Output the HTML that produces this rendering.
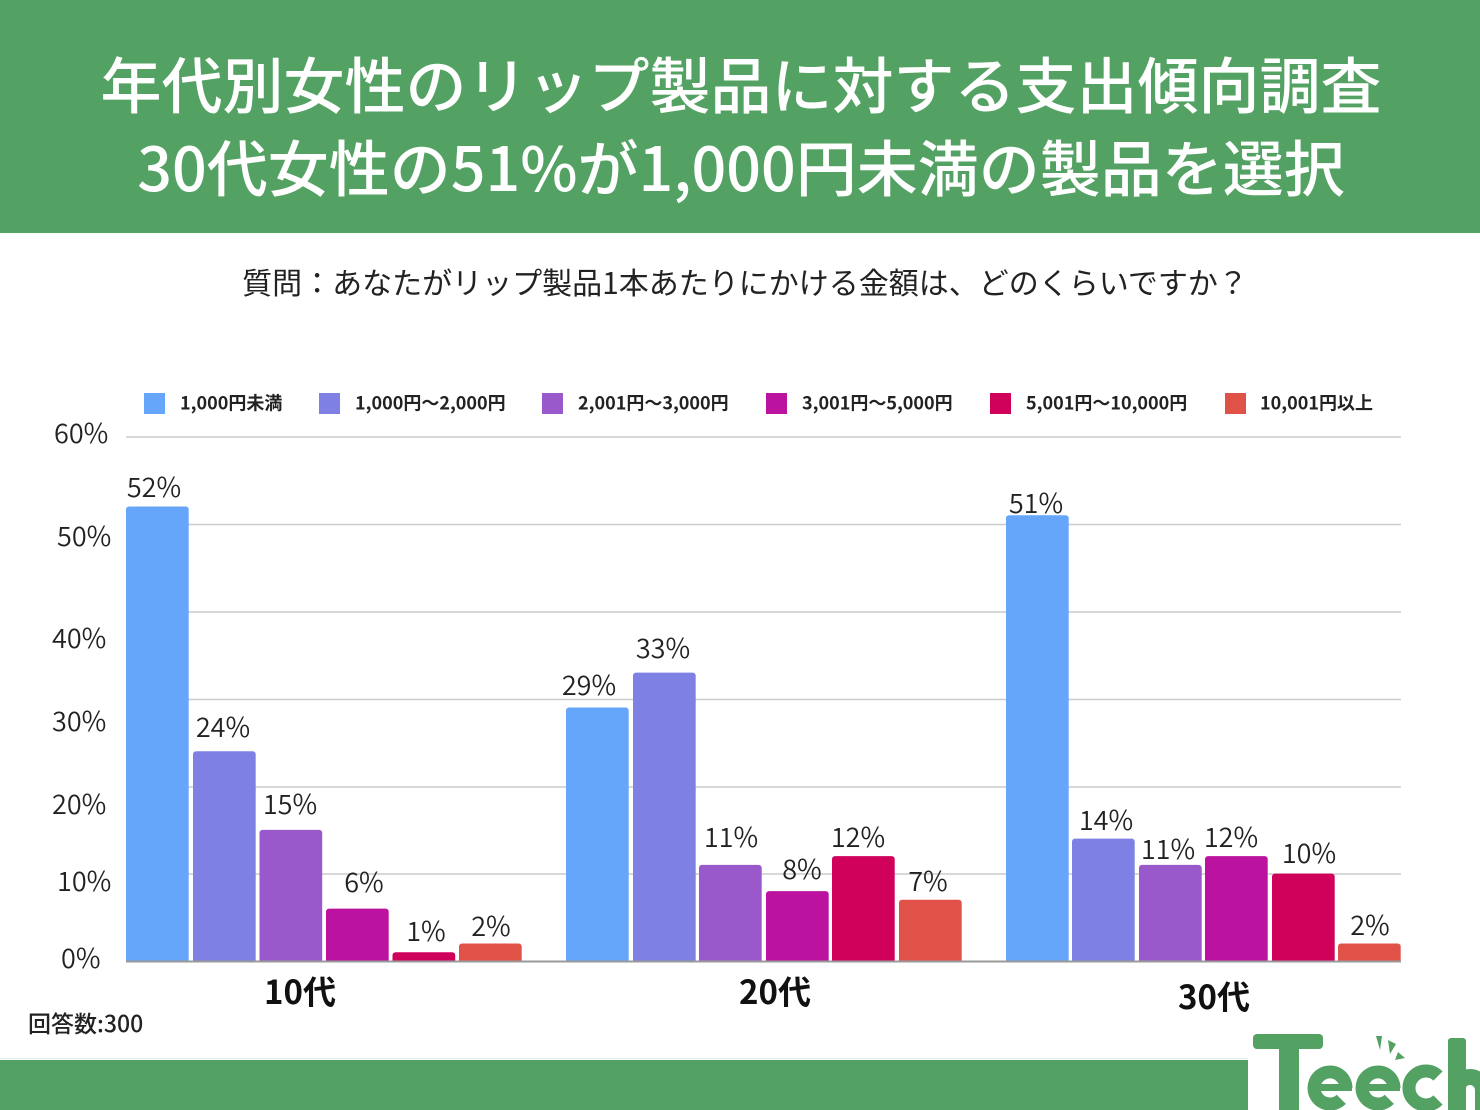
<!DOCTYPE html>
<html><head><meta charset="utf-8"><style>
html,body{margin:0;padding:0;background:#fff;}
svg{display:block;}
text{font-family:"Noto Sans CJK JP","Liberation Sans",sans-serif;}
</style></head><body>
<svg width="1480" height="1110" viewBox="0 0 1480 1110" xmlns="http://www.w3.org/2000/svg">
<rect x="0" y="0" width="1480" height="1110" fill="#fff"/>
<!-- header -->
<rect x="0" y="0" width="1480" height="233" fill="#53a263"/>
<text x="741" y="108" font-size="61" font-weight="500" fill="#fff" text-anchor="middle">年代別女性のリップ製品に対する支出傾向調査</text>
<text x="741" y="191" font-size="61" font-weight="500" fill="#fff" text-anchor="middle">30代女性の51%が1,000円未満の製品を選択</text>
<text x="745" y="294" font-size="30" font-weight="400" fill="#222" text-anchor="middle">質問：あなたがリップ製品1本あたりにかける金額は、どのくらいですか？</text>

<!-- legend -->
<g font-size="18" font-weight="700" fill="#222">
<rect x="144" y="393" width="21" height="21" fill="#66a6fa"/><text x="180" y="409.5">1,000円未満</text>
<rect x="319" y="393" width="21" height="21" fill="#7f80e4"/><text x="355" y="409.5">1,000円〜2,000円</text>
<rect x="542" y="393" width="21" height="21" fill="#9a59ca"/><text x="578" y="409.5">2,001円〜3,000円</text>
<rect x="766" y="393" width="21" height="21" fill="#bb13a0"/><text x="802" y="409.5">3,001円〜5,000円</text>
<rect x="990" y="393" width="21" height="21" fill="#d0015b"/><text x="1026" y="409.5">5,001円〜10,000円</text>
<rect x="1225" y="393" width="21" height="21" fill="#e05148"/><text x="1260" y="409.5">10,001円以上</text>
</g>

<!-- gridlines -->
<g stroke="#cccccc" stroke-width="1.5">
<line x1="126" y1="437" x2="1401" y2="437"/>
<line x1="126" y1="524.5" x2="1401" y2="524.5"/>
<line x1="126" y1="612" x2="1401" y2="612"/>
<line x1="126" y1="699.5" x2="1401" y2="699.5"/>
<line x1="126" y1="787" x2="1401" y2="787"/>
<line x1="126" y1="874" x2="1401" y2="874"/>
</g>

<!-- y labels -->
<g font-size="27" font-weight="350" fill="#222">
<text x="54" y="443">60%</text>
<text x="57" y="546">50%</text>
<text x="52" y="648">40%</text>
<text x="52" y="731">30%</text>
<text x="52" y="814">20%</text>
<text x="57" y="891">10%</text>
<text x="61" y="968">0%</text>
</g>

<!-- bars -->
<g>
<rect x="126" y="506.5" width="62.7" height="460" rx="3" fill="#66a6fa"/>
<rect x="193" y="751.2" width="62.7" height="215" rx="3" fill="#7f80e4"/>
<rect x="259.5" y="829.9" width="62.7" height="137" rx="3" fill="#9a59ca"/>
<rect x="326" y="908.6" width="62.7" height="58" rx="3" fill="#bb13a0"/>
<rect x="392.5" y="952.3" width="62.7" height="14" rx="3" fill="#d0015b"/>
<rect x="459" y="943.5" width="62.7" height="23" rx="3" fill="#e05148"/>

<rect x="566" y="707.5" width="62.7" height="259" rx="3" fill="#66a6fa"/>
<rect x="633" y="672.6" width="62.7" height="294" rx="3" fill="#7f80e4"/>
<rect x="699" y="864.9" width="62.7" height="102" rx="3" fill="#9a59ca"/>
<rect x="766" y="891.1" width="62.7" height="76" rx="3" fill="#bb13a0"/>
<rect x="832" y="856.1" width="62.7" height="111" rx="3" fill="#d0015b"/>
<rect x="899" y="899.8" width="62.7" height="67" rx="3" fill="#e05148"/>

<rect x="1006" y="515.3" width="62.7" height="451" rx="3" fill="#66a6fa"/>
<rect x="1072" y="838.6" width="62.7" height="128" rx="3" fill="#7f80e4"/>
<rect x="1139" y="864.9" width="62.7" height="102" rx="3" fill="#9a59ca"/>
<rect x="1205" y="856.1" width="62.7" height="111" rx="3" fill="#bb13a0"/>
<rect x="1272" y="873.6" width="62.7" height="93" rx="3" fill="#d0015b"/>
<rect x="1338" y="943.5" width="62.7" height="23" rx="3" fill="#e05148"/>
</g>
<rect x="110" y="962" width="1310" height="10" fill="#fff"/>
<line x1="126" y1="961.5" x2="1401" y2="961.5" stroke="#9a9a9a" stroke-width="2"/>

<!-- value labels -->
<g font-size="27" font-weight="350" fill="#222" text-anchor="middle">
<text x="154" y="497">52%</text>
<text x="223" y="737">24%</text>
<text x="290" y="814">15%</text>
<text x="364" y="892">6%</text>
<text x="426" y="941">1%</text>
<text x="491" y="936">2%</text>

<text x="589" y="695">29%</text>
<text x="663" y="658">33%</text>
<text x="731" y="847">11%</text>
<text x="802" y="879">8%</text>
<text x="858" y="847">12%</text>
<text x="928" y="891">7%</text>

<text x="1036" y="513">51%</text>
<text x="1106" y="830">14%</text>
<text x="1168" y="859">11%</text>
<text x="1231" y="847">12%</text>
<text x="1309" y="863">10%</text>
<text x="1370" y="935">2%</text>
</g>

<!-- category labels -->
<g font-size="33" font-weight="700" fill="#111" text-anchor="middle">
<text x="300" y="1004">10代</text>
<text x="775" y="1004">20代</text>
<text x="1214" y="1009">30代</text>
</g>

<text x="28" y="1032" font-size="23" font-weight="500" fill="#222">回答数:300</text>

<!-- bottom bar -->
<line x1="0" y1="1058.5" x2="1248" y2="1058.5" stroke="#e3ece5" stroke-width="1"/>
<rect x="0" y="1060" width="1248" height="50" fill="#53a263"/>

<!-- Teech logo -->
<g fill="#53a263">
<rect x="1253" y="1034" width="70" height="15" rx="4"/>
<rect x="1279" y="1034" width="20" height="80" rx="3"/>
<path d="M1346 1088 A16 16 0 1 0 1341.3 1099.3" fill="none" stroke="#53a263" stroke-width="13"/>
<rect x="1308" y="1084" width="44" height="7"/>
<path d="M1394 1088 A16 16 0 1 0 1389.3 1099.3" fill="none" stroke="#53a263" stroke-width="13"/>
<rect x="1356" y="1084" width="44" height="7"/>
<path d="M1438 1076 A17 17 0 1 0 1438 1100" fill="none" stroke="#53a263" stroke-width="13"/>
<rect x="1448" y="1038" width="18" height="75" rx="3"/>
<path d="M1457 1112 V1090 A13 13 0 0 1 1483 1090 V1112" fill="none" stroke="#53a263" stroke-width="16"/>
<polygon points="1376,1036 1382,1036 1380,1050"/>
<polygon points="1388,1040 1396,1044 1390,1054"/>
<polygon points="1398,1052 1405,1058 1395,1060"/>
</g>
</svg>
</body></html>
